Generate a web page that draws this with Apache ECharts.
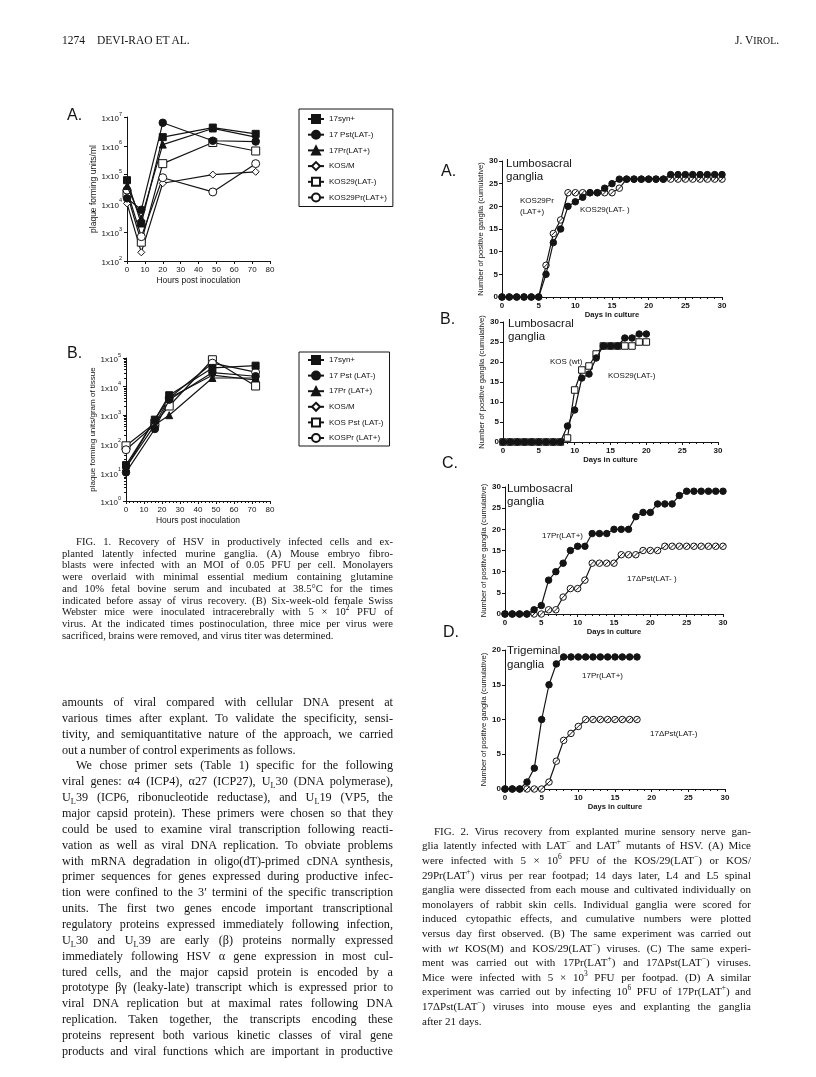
<!DOCTYPE html>
<html>
<head>
<meta charset="utf-8">
<script src="https://cdn.jsdelivr.net/npm/echarts/dist/echarts.min.js"></script>
<style>
html,body{margin:0;padding:0;background:#fff;}
#c{position:absolute;left:0;top:0;width:816px;height:1077px;}
.ln{position:absolute;white-space:nowrap;font-family:'Liberation Serif','DejaVu Serif',serif;color:#141414;}
.ln sub,.ln sup{font-size:0.68em;line-height:0;}
</style>
</head>
<body>
<div id="c"></div>
<script>
// ---------------- DATA ----------------
// Fig 1A: virus titer (PFU/ml) in cell culture
const hoursA = [0, 8, 20, 48, 72];
const a17syn = [6.4e4, 2.0e3, 2.0e6, 4.3e6, 2.6e6];
const a17pst = [1.5e4, 6.0e3, 6.3e6, 1.5e6, 1.4e6];
const a17pr = [4.0e4, 3.0e3, 1.1e6, 4.0e6, 2.0e6];
const aKosM = [1.0e4, 2.0e2, 5.0e4, 1.0e5, 1.25e5];
const aKos29 = [2.2e4, 4.5e2, 2.4e5, 1.3e6, 6.6e5];
const aKos29pr = [2.9e4, 7.0e2, 7.8e4, 2.5e4, 2.4e5];
const namesA = ['17syn+', '17 Pst(LAT-)', '17Pr(LAT+)', 'KOS/M', 'KOS29(LAT-)', 'KOS29Pr(LAT+)'];

// Fig 1B: PFU per gram of brain tissue
const hoursB = [0, 16, 24, 48, 72];
const b17syn = [18, 700, 5000, 45000, 54000];
const b17pst = [10, 330, 3500, 31000, 23000];
const b17pr = [15, 460, 1000, 20000, 20000];
const bKosM = [15, 700, 4000, 25000, 17000];
const bKosPst = [85, 520, 2100, 87000, 10500];
const bKosPr = [62, 470, 4000, 66000, 32000];
const namesB = ['17syn+', '17 Pst (LAT-)', '17Pr (LAT+)', 'KOS/M', 'KOS Pst (LAT-)', 'KOSPr (LAT+)'];

// Fig 2: cumulative positive ganglia by day in culture
const days0to30 = [0,1,2,3,4,5,6,7,8,9,10,11,12,13,14,15,16,17,18,19,20,21,22,23,24,25,26,27,28,29,30];
const days0to20 = [0,1,2,3,4,5,6,7,8,9,10,11,12,13,14,15,16,17,18,19,20];
const days0to18 = [0,1,2,3,4,5,6,7,8,9,10,11,12,13,14,15,16,17,18];
const f2aKos29 =   [0,0,0,0,0,0,5,12,15,20,21,22,23,23,24,25,26,26,26,26,26,26,26,27,27,27,27,27,27,27,27];
const f2aKos29Pr = [0,0,0,0,0,0,7,14,17,23,23,23,23,23,23,23,24,26,26,26,26,26,26,26,26,26,26,26,26,26,26];
const f2bKosWt =   [0,0,0,0,0,0,0,0,0,4,8,16,17,21,24,24,24,26,26,27,27];
const f2bKos29 =   [0,0,0,0,0,0,0,0,0,1,13,18,19,22,24,24,24,24,24,25,25];
const f2c17Pr =    [0,0,0,0,1,2,8,10,12,15,16,16,19,19,19,20,20,20,23,24,24,26,26,26,28,29,29,29,29,29,29];
const f2c17dPst =  [0,0,0,0,0,0,1,1,4,6,6,8,12,12,12,12,14,14,14,15,15,15,16,16,16,16,16,16,16,16,16];
const f2d17Pr =    [0,0,0,1,3,10,15,18,19,19,19,19,19,19,19,19,19,19,19];
const f2d17dPst =  [0,0,0,0,0,0,1,4,7,8,9,10,10,10,10,10,10,10,10];

// ---------------- CHART ----------------
const ink = '#141414';
const SANS = 'Liberation Sans';
const slashCircle = 'path://M0,-5A5,5,0,1,1,0,5A5,5,0,1,1,0,-5ZM-3.2,3.2L3.2,-3.2';

function xAx(grid, min, max, interval, name, gap, minor, minorSplit) {
  return {
    type: 'value', gridIndex: grid, min, max, interval,
    name, nameLocation: 'middle', nameGap: gap,
    nameTextStyle: {color: ink, fontFamily: SANS, fontSize: grid >= 2 ? 7.6 : 8.5, fontWeight: grid >= 2 ? 'bold' : 'normal'},
    axisLine: {show: true, onZero: false, lineStyle: {color: ink, width: 1}},
    axisTick: {show: true, length: 3, lineStyle: {color: ink, width: 1}},
    minorTick: {show: !!minor, splitNumber: minorSplit || 5, length: 2, lineStyle: {color: ink, width: 1}},
    axisLabel: {color: ink, fontFamily: SANS, fontSize: 8, margin: 5, fontWeight: grid >= 2 ? 'bold' : 'normal'},
    splitLine: {show: false}
  };
}
function yAxLin(grid, min, max, interval, name, gap) {
  return {
    type: 'value', gridIndex: grid, min, max, interval,
    name, nameLocation: 'middle', nameGap: gap,
    nameTextStyle: {color: ink, fontFamily: SANS, fontSize: 7.6},
    axisLine: {show: true, onZero: false, lineStyle: {color: ink, width: 1}},
    axisTick: {show: true, length: 3, lineStyle: {color: ink, width: 1}},
    axisLabel: {color: ink, fontFamily: SANS, fontSize: 8, margin: 4, fontWeight: 'bold'},
    splitLine: {show: false}
  };
}
const logLabel = {
  color: ink, margin: 5,
  formatter: v => '{m|1x10}{e|' + Math.round(Math.log10(v)) + '}',
  rich: {
    m: {fontSize: 8, fontFamily: SANS, color: ink, lineHeight: 12, verticalAlign: 'bottom'},
    e: {fontSize: 5.5, fontFamily: SANS, color: ink, lineHeight: 12, verticalAlign: 'top'}
  }
};
function yAxLog(grid, min, max, name, gap, fs, minor) {
  return {
    type: 'log', logBase: 10, gridIndex: grid, min, max, splitNumber: 5,
    name, nameLocation: 'middle', nameGap: gap,
    nameTextStyle: {color: ink, fontFamily: SANS, fontSize: fs},
    axisLine: {show: true, onZero: false, lineStyle: {color: ink, width: 1}},
    axisTick: {show: true, length: 3, lineStyle: {color: ink, width: 1}},
    minorTick: {show: !!minor, splitNumber: 9, length: 2, lineStyle: {color: ink, width: 1}},
    axisLabel: logLabel,
    splitLine: {show: false}
  };
}
function ser(name, xs, ys, ax, symbol, size, filled, z, lw) {
  return {
    type: 'line', name, xAxisIndex: ax, yAxisIndex: ax,
    data: xs.map((x, i) => [x, ys[i]]),
    symbol, symbolSize: size, symbolKeepAspect: true, showSymbol: true, showAllSymbol: true,
    lineStyle: {color: ink, width: lw || 1.2},
    itemStyle: {color: filled ? ink : '#fff', borderColor: ink, borderWidth: 1, opacity: 1},
    emphasis: {disabled: true}, z: z || (filled ? 3 : 2), clip: false, animation: false
  };
}

const grids = [
  {left: 127, top: 117, width: 143, height: 144},
  {left: 126, top: 358, width: 144, height: 143},
  {left: 502, top: 161, width: 220, height: 136},
  {left: 503, top: 322, width: 215, height: 120},
  {left: 505, top: 487, width: 218, height: 127},
  {left: 505, top: 650, width: 220, height: 139}
].map(g => Object.assign({outerBoundsMode: 'none', containLabel: false}, g));

const xAxes = [
  xAx(0, 0, 80, 10, 'Hours post inoculation', 15, false),
  xAx(1, 0, 80, 10, 'Hours post inoculation', 15, true, 5),
  xAx(2, 0, 30, 5, 'Days in culture', 13, true, 5),
  xAx(3, 0, 30, 5, 'Days in culture', 12, true, 5),
  xAx(4, 0, 30, 5, 'Days in culture', 12, true, 5),
  xAx(5, 0, 30, 5, 'Days in culture', 14, true, 5)
];
const yAxes = [
  yAxLog(0, 1e2, 1e7, 'plaque forming units/ml', 28, 8.5, false),
  yAxLog(1, 1, 1e5, 'plaque forming units/gram of tissue', 27, 8, true),
  yAxLin(2, 0, 30, 5, 'Number of positive ganglia (cumulative)', 15),
  yAxLin(3, 0, 30, 5, 'Number of positive ganglia (cumulative)', 15),
  yAxLin(4, 0, 30, 5, 'Number of positive ganglia (cumulative)', 15),
  yAxLin(5, 0, 20, 5, 'Number of positive ganglia (cumulative)', 15)
];

const series = [
  ser(namesA[0], hoursA, a17syn, 0, 'rect', 7, true),
  ser(namesA[1], hoursA, a17pst, 0, 'circle', 7.5, true),
  ser(namesA[2], hoursA, a17pr, 0, 'triangle', 7, true),
  ser(namesA[3], hoursA, aKosM, 0, 'diamond', 7, false),
  ser(namesA[4], hoursA, aKos29, 0, 'rect', 8, false),
  ser(namesA[5], hoursA, aKos29pr, 0, 'circle', 8, false),
  ser(namesB[0], hoursB, b17syn, 1, 'rect', 7, true),
  ser(namesB[1], hoursB, b17pst, 1, 'circle', 7.5, true),
  ser(namesB[2], hoursB, b17pr, 1, 'triangle', 7, true),
  ser(namesB[3], hoursB, bKosM, 1, 'diamond', 7, false),
  ser(namesB[4], hoursB, bKosPst, 1, 'rect', 8, false),
  ser(namesB[5], hoursB, bKosPr, 1, 'circle', 8, false),
  ser('2A KOS29Pr(LAT+)', days0to30, f2aKos29Pr, 2, slashCircle, 6.5, false, 2),
  ser('2A KOS29(LAT-)', days0to30, f2aKos29, 2, 'circle', 6.5, true, 3),
  ser('2B KOS29(LAT-)', days0to20, f2bKos29, 3, 'rect', 6.5, false, 2),
  ser('2B KOS (wt)', days0to20, f2bKosWt, 3, 'circle', 6.5, true, 3),
  ser('2C 17dPst(LAT-)', days0to30, f2c17dPst, 4, slashCircle, 6.5, false, 2),
  ser('2C 17Pr(LAT+)', days0to30, f2c17Pr, 4, 'circle', 6.5, true, 3),
  ser('2D 17dPst(LAT-)', days0to18, f2d17dPst, 5, slashCircle, 6.5, false, 2),
  ser('2D 17Pr(LAT+)', days0to18, f2d17Pr, 5, 'circle', 6.5, true, 3)
];

function legendAt(names, top, gap, pad) {
  return {
    data: names, orient: 'vertical', left: 299, top,
    itemWidth: 16, itemHeight: 10, itemGap: gap,
    padding: pad, borderColor: ink, borderWidth: 1, borderRadius: 0,
    backgroundColor: '#fff', selectedMode: false,
    textStyle: {fontFamily: SANS, fontSize: 8, color: ink}
  };
}

function txt(x, y, s, font) {
  return {type: 'text', x, y, silent: true,
    style: {text: s, font, fill: ink, align: 'left', verticalAlign: 'middle'}};
}
const big = '16px "Liberation Sans"';
const ttl = '11.5px "Liberation Sans"';
const ann = '8px "Liberation Sans"';
const graphic = [
  txt(67, 116, 'A.', big), txt(67, 354, 'B.', big),
  txt(441, 172, 'A.', big), txt(440, 320, 'B.', big), txt(442, 464, 'C.', big), txt(443, 633, 'D.', big),
  txt(506, 164, 'Lumbosacral', ttl), txt(506, 177, 'ganglia', ttl),
  txt(508, 324, 'Lumbosacral', ttl), txt(508, 337, 'ganglia', ttl),
  txt(507, 489, 'Lumbosacral', ttl), txt(507, 502, 'ganglia', ttl),
  txt(507, 651, 'Trigeminal', ttl), txt(507, 665, 'ganglia', ttl),
  txt(520, 201, 'KOS29Pr', ann), txt(520, 212, '(LAT+)', ann), txt(580, 210, 'KOS29(LAT- )', ann),
  txt(550, 362, 'KOS (wt)', ann), txt(608, 376, 'KOS29(LAT-)', ann),
  txt(542, 536, '17Pr(LAT+)', ann), txt(627, 579, '17\u0394Pst(LAT- )', ann),
  txt(582, 676, '17Pr(LAT+)', ann), txt(650, 734, '17\u0394Pst(LAT-)', ann)
];

const chart = echarts.init(document.getElementById('c'), null, {renderer: 'canvas', width: 816, height: 1077});
chart.setOption({
  animation: false,
  backgroundColor: '#fff',
  grid: grids, xAxis: xAxes, yAxis: yAxes, series,
  legend: [legendAt(namesA, 109, 5.7, [5, 6, 4, 8]), legendAt(namesB, 352, 5.6, [3, 6, 3, 8])],
  graphic
});

// ---------------- PAGE TEXT ----------------
function typeset(lines, x, y0, lh, w, fs) {
  lines.forEach((L, i) => {
    const d = document.createElement('div');
    d.className = 'ln';
    const ind = L.indent || 0;
    d.style.left = (x + ind) + 'px';
    d.style.top = (y0 + i * lh - fs * 0.66) + 'px';
    d.style.fontSize = fs + 'px';
    d.style.lineHeight = (fs * 1.2) + 'px';
    d.innerHTML = L.t;
    document.body.appendChild(d);
    if (!L.last) {
      const target = w - ind;
      const nat = d.getBoundingClientRect().width;
      const n = (d.textContent.match(/ /g) || []).length;
      if (nat > target) d.style.letterSpacing = ((target - nat) / d.textContent.length) + 'px';
      else if (n) d.style.wordSpacing = ((target - nat) / n) + 'px';
    }
  });
}
const M = '\u2212';
typeset([{t: '1274', last: true}], 62, 42, 0, 0, 11.5);
typeset([{t: 'DEVI-RAO ET AL.', last: true}], 97, 42, 0, 0, 11.5);
typeset([{t: 'J. V<span style="font-size:0.85em">IROL</span>.', last: true}], 735, 42, 0, 0, 11.5);

typeset([
  {t: 'FIG. 1. Recovery of HSV in productively infected cells and ex-', indent: 14},
  {t: 'planted latently infected murine ganglia. (A) Mouse embryo fibro-'},
  {t: 'blasts were infected with an MOI of 0.05 PFU per cell. Monolayers'},
  {t: 'were overlaid with minimal essential medium containing glutamine'},
  {t: 'and 10% fetal bovine serum and incubated at 38.5\u00b0C for the times'},
  {t: 'indicated before assay of virus recovery. (B) Six-week-old female Swiss'},
  {t: 'Webster mice were inoculated intracerebrally with 5 \u00d7 10<sup>2</sup> PFU of'},
  {t: 'virus. At the indicated times postinoculation, three mice per virus were'},
  {t: 'sacrificed, brains were removed, and virus titer was determined.', last: true}
], 62, 543, 11.7, 331, 10.6);

typeset([
  {t: 'amounts of viral compared with cellular DNA present at'},
  {t: 'various times after explant. To validate the specificity, sensi-'},
  {t: 'tivity, and semiquantitative nature of the approach, we carried'},
  {t: 'out a number of control experiments as follows.', last: true},
  {t: 'We chose primer sets (Table 1) specific for the following', indent: 14},
  {t: 'viral genes: \u03b14 (ICP4), \u03b127 (ICP27), U<sub>L</sub>30 (DNA polymerase),'},
  {t: 'U<sub>L</sub>39 (ICP6, ribonucleotide reductase), and U<sub>L</sub>19 (VP5, the'},
  {t: 'major capsid protein). These primers were chosen so that they'},
  {t: 'could be used to examine viral transcription following reacti-'},
  {t: 'vation as well as viral DNA replication. To obviate problems'},
  {t: 'with mRNA degradation in oligo(dT)-primed cDNA synthesis,'},
  {t: 'primer sequences for genes expressed during productive infec-'},
  {t: 'tion were confined to the 3\u2032 termini of the specific transcription'},
  {t: 'units. The first two genes encode important transcriptional'},
  {t: 'regulatory proteins expressed immediately following infection,'},
  {t: 'U<sub>L</sub>30 and U<sub>L</sub>39 are early (\u03b2) proteins normally expressed'},
  {t: 'immediately following HSV \u03b1 gene expression in most cul-'},
  {t: 'tured cells, and the major capsid protein is encoded by a'},
  {t: 'prototype \u03b2\u03b3 (leaky-late) transcript which is expressed prior to'},
  {t: 'viral DNA replication but at maximal rates following DNA'},
  {t: 'replication. Taken together, the transcripts encoding these'},
  {t: 'proteins represent both various kinetic classes of viral gene'},
  {t: 'products and viral functions which are important in productive'}
], 62, 703, 15.86, 331, 12.2);

typeset([
  {t: 'FIG. 2. Virus recovery from explanted murine sensory nerve gan-', indent: 12},
  {t: 'glia latently infected with LAT<sup>' + M + '</sup> and LAT<sup>+</sup> mutants of HSV. (A) Mice'},
  {t: 'were infected with 5 \u00d7 10<sup>6</sup> PFU of the KOS/29(LAT<sup>' + M + '</sup>) or KOS/'},
  {t: '29Pr(LAT<sup>+</sup>) virus per rear footpad; 14 days later, L4 and L5 spinal'},
  {t: 'ganglia were dissected from each mouse and cultivated individually on'},
  {t: 'monolayers of rabbit skin cells. Individual ganglia were scored for'},
  {t: 'induced cytopathic effects, and cumulative numbers were plotted'},
  {t: 'versus day first observed. (B) The same experiment was carried out'},
  {t: 'with <i>wt</i> KOS(M) and KOS/29(LAT<sup>' + M + '</sup>) viruses. (C) The same experi-'},
  {t: 'ment was carried out with 17Pr(LAT<sup>+</sup>) and 17\u0394Pst(LAT<sup>' + M + '</sup>) viruses.'},
  {t: 'Mice were infected with 5 \u00d7 10<sup>3</sup> PFU per footpad. (D) A similar'},
  {t: 'experiment was carried out by infecting 10<sup>6</sup> PFU of 17Pr(LAT<sup>+</sup>) and'},
  {t: '17\u0394Pst(LAT<sup>' + M + '</sup>) viruses into mouse eyes and explanting the ganglia'},
  {t: 'after 21 days.', last: true}
], 422, 832, 14.6, 329, 11);
</script>
</body>
</html>
